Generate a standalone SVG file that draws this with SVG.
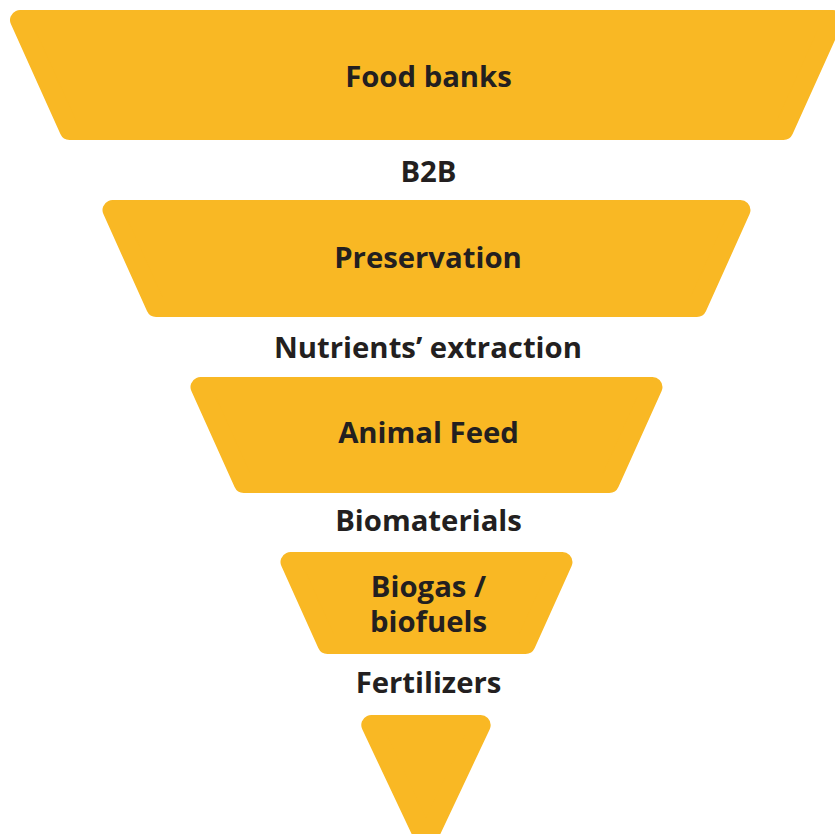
<svg xmlns="http://www.w3.org/2000/svg" width="835" height="834" viewBox="0 0 835 834">
<style>
.shape{fill:#F9B824;stroke:#F9B824;stroke-width:20;stroke-linejoin:round}
.t{font-family:"Open Sans","Noto Sans","Liberation Sans",sans-serif;font-weight:700;font-size:29.3px;fill:#231F20;text-anchor:middle}
</style>
<rect width="835" height="834" fill="#ffffff"/>
<g id="food-banks">
<polygon class="shape" points="20,20 833,20 783.5,130 69.5,130"/>
<text class="t" x="428.5" y="87">Food banks</text>
</g>
<g id="b2b"><text class="t" x="428.5" y="182">B2B</text></g>
<g id="preservation">
<polygon class="shape" points="112.5,210 740.5,210 696.9,307 156.1,307"/>
<text class="t" x="428" y="268">Preservation</text>
</g>
<g id="nutrients"><text class="t" x="428" y="358">Nutrients’ extraction</text></g>
<g id="animal-feed">
<polygon class="shape" points="200.5,387 652.5,387 609.3,483 243.7,483"/>
<text class="t" x="428.5" y="443">Animal Feed</text>
</g>
<g id="biomaterials"><text class="t" x="428.5" y="531">Biomaterials</text></g>
<g id="biogas">
<polygon class="shape" points="290.5,562 562.5,562 525.6,644 327.4,644"/>
<text class="t" x="428.5" y="597">Biogas /<tspan x="428.5" dy="35">biofuels</tspan></text>
</g>
<g id="fertilizers"><text class="t" x="428.5" y="693">Fertilizers</text></g>
<g id="tip">
<polygon class="shape" points="371.3,725 480.7,725 426,841"/>
</g>
<g id="connectors"></g>
</svg>
